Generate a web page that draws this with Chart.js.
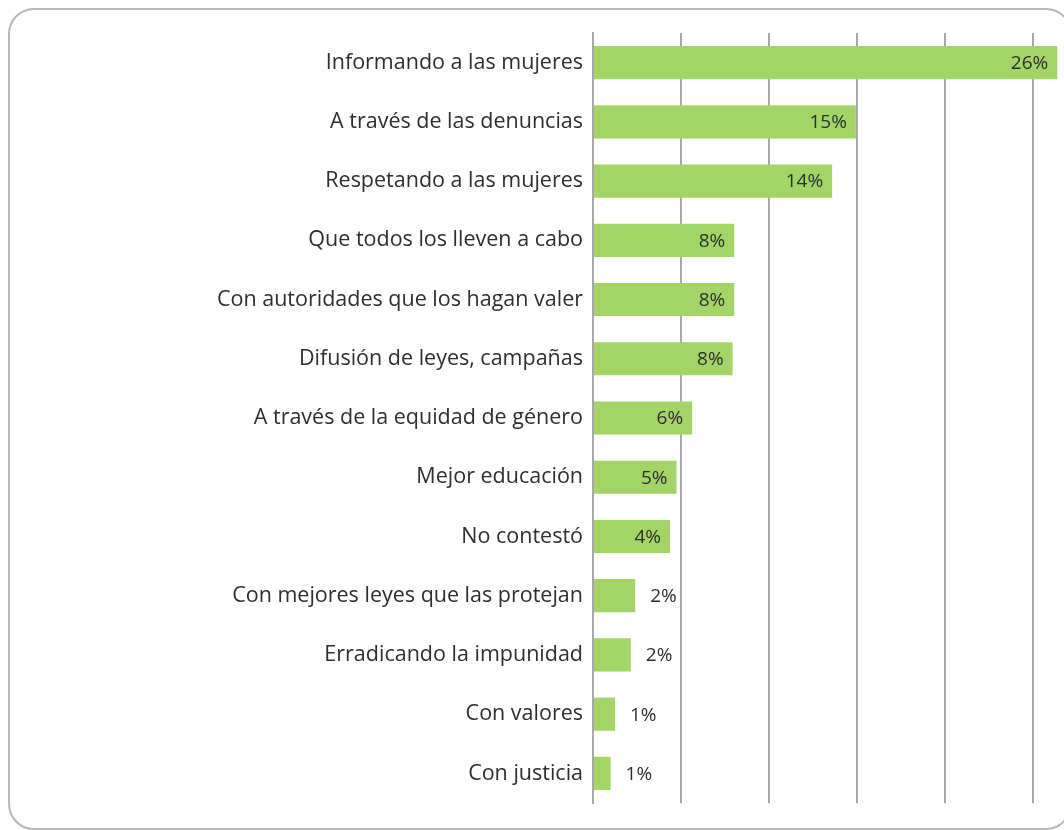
<!DOCTYPE html>
<html>
<head>
<meta charset="utf-8">
<script src="https://cdn.jsdelivr.net/npm/chart.js@4"></script>
<style>
    html, body { margin: 0; padding: 0; background: #fff; }
    .wrap { position: relative; width: 1064px; height: 830px; overflow: hidden; }
    .frame {
        position: absolute; left: 8px; top: 8px; width: 1064px; height: 822px;
        border: 2px solid #b8b8b8; border-radius: 26px; box-sizing: border-box;
    }
    canvas { position: absolute; left: 0; top: 0; }
</style>
</head>
<body>
<div class="wrap">
    <div class="frame"></div>
    <canvas id="chartRespuestas" width="1064" height="830"></canvas>
</div>
<script>
// Datos de la gráfica
const categorias = [
    'Informando a las mujeres',
    'A través de las denuncias',
    'Respetando a las mujeres',
    'Que todos los lleven a cabo',
    'Con autoridades que los hagan valer',
    'Difusión de leyes, campañas',
    'A través de la equidad de género',
    'Mejor educación',
    'No contestó',
    'Con mejores leyes que las protejan',
    'Erradicando la impunidad',
    'Con valores',
    'Con justicia'
];
const valores = [26.4, 14.95, 13.6, 8.03, 8.03, 7.94, 5.64, 4.75, 4.38, 2.4, 2.15, 1.25, 1.0];
const etiquetas = ['26%', '15%', '14%', '8%', '8%', '8%', '6%', '5%', '4%', '2%', '2%', '1%', '1%'];
const lineasRejilla = [0, 5, 10, 15, 20, 25];

const colores = {
    barra: '#a2d566',
    rejilla: '#a8a8a8',
    texto: '#2e2e2e'
};

// Etiquetas de valor: dentro de la barra si es ancha, fuera si es corta
const etiquetasPlugin = {
    id: 'etiquetasValor',
    afterDatasetsDraw(chart) {
        const { ctx } = chart;
        const meta = chart.getDatasetMeta(0);
        ctx.save();
        ctx.font = '19px "Open Sans"';
        ctx.fillStyle = colores.texto;
        ctx.textBaseline = 'middle';
        meta.data.forEach((bar, i) => {
            if (valores[i] > 3) {
                ctx.textAlign = 'right';
                ctx.fillText(etiquetas[i], bar.x - 9, bar.y + 1);
            } else {
                ctx.textAlign = 'left';
                ctx.fillText(etiquetas[i], bar.x + 15, bar.y + 1);
            }
        });
        ctx.restore();
    }
};

const ctx = document.getElementById('chartRespuestas').getContext('2d');
new Chart(ctx, {
    type: 'bar',
    data: {
        labels: categorias,
        datasets: [{
            data: valores,
            backgroundColor: colores.barra,
            barPercentage: 0.56,
            categoryPercentage: 1
        }]
    },
    options: {
        indexAxis: 'y',
        responsive: false,
        animation: false,
        layout: { padding: { top: 33, bottom: 27, left: 0, right: 5 } },
        plugins: {
            legend: { display: false },
            tooltip: { enabled: false }
        },
        scales: {
            x: {
                min: 0,
                max: 26.5,
                ticks: { display: false },
                afterBuildTicks: (scale) => {
                    scale.ticks = lineasRejilla.map(v => ({ value: v }));
                },
                afterFit: (scale) => { scale.height = 0; },
                grid: { color: colores.rejilla, lineWidth: 2, drawTicks: false },
                border: { display: false }
            },
            y: {
                afterFit: (scale) => { scale.width = 593; },
                grid: { display: false, drawTicks: false },
                border: { display: true, color: colores.rejilla, width: 2 },
                ticks: {
                    color: colores.texto,
                    padding: 10,
                    font: { family: '"Open Sans"', size: 21.5 }
                }
            }
        }
    },
    plugins: [etiquetasPlugin]
});
</script>
</body>
</html>
